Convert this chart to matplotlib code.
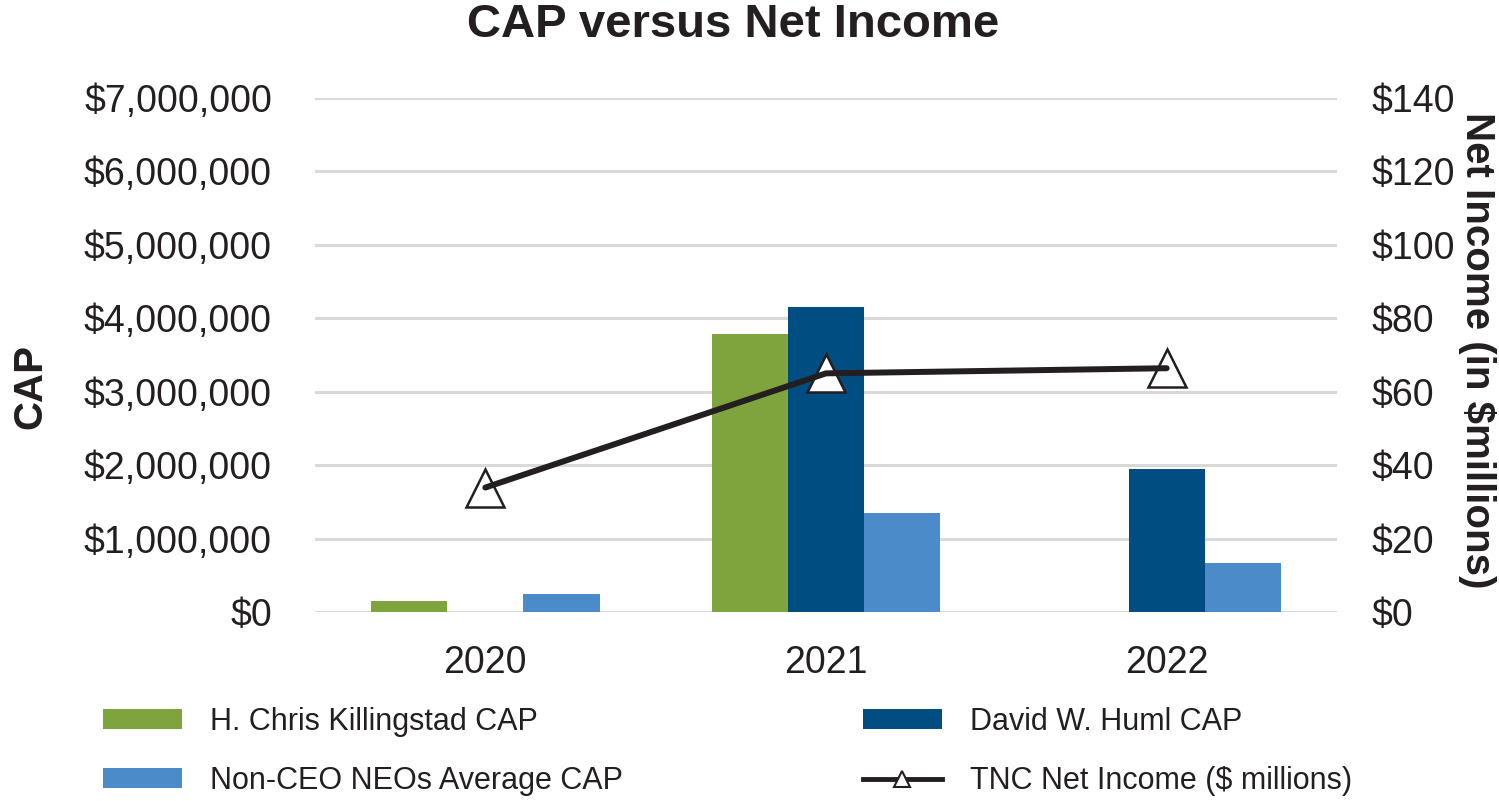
import numpy as np
import matplotlib.pyplot as plt
from matplotlib.ticker import FuncFormatter
from matplotlib.lines import Line2D

plt.rcParams['font.family'] = ['Liberation Sans', 'DejaVu Sans']

# chart data
years = ['2020', '2021', '2022']
killingstad_cap = [150000, 3790000, np.nan]
huml_cap = [np.nan, 4160000, 1950000]
non_ceo_cap = [245000, 1350000, 670000]
net_income = [33.9, 65.0, 66.4]   # $ millions

green = '#7FA33D'
dark_blue = '#004E81'
light_blue = '#4C8BC9'
grid_col = '#D9D9D9'
ink = '#231F20'

fig = plt.figure(figsize=(14.99, 8.01), dpi=100)
ax = fig.add_axes([315/1499, 1-612/801, (1337-315)/1499, (612-98)/801])
ax2 = ax.twinx()

x = np.arange(len(years))
w = 0.224
b1 = ax.bar(x - w, killingstad_cap, w, color=green, zorder=2)
b2 = ax.bar(x, huml_cap, w, color=dark_blue, zorder=2)
b3 = ax.bar(x + w, non_ceo_cap, w, color=light_blue, zorder=2)

ax.set_xlim(-0.5, 2.5)
ax.set_ylim(0, 7000000)
ax.set_yticks(np.arange(0, 7000001, 1000000))
ax.yaxis.set_major_formatter(FuncFormatter(lambda v, p: '${:,.0f}'.format(v)))
ax.set_xticks(x)
ax.set_xticklabels(years)
ax.grid(axis='y', color=grid_col, linewidth=2.2, zorder=0)
ax.set_axisbelow(True)
for s in ax.spines.values():
    s.set_visible(False)
ax.tick_params(axis='both', length=0, labelsize=27, colors=ink)
ax.tick_params(axis='y', pad=31)
ax.tick_params(axis='x', pad=24)

# net income on the right axis: markers under the line
ax2.plot(x, net_income, linestyle='none', marker='^', markersize=27,
         markerfacecolor='white', markeredgecolor=ink, markeredgewidth=1.8, zorder=3)
ax2.plot(x, net_income, color=ink, linewidth=4.3, solid_capstyle='round', zorder=4)
ax2.set_ylim(0, 140)
ax2.set_yticks(np.arange(0, 141, 20))
ax2.yaxis.set_major_formatter(FuncFormatter(lambda v, p: '${:.0f}'.format(v)))
for s in ax2.spines.values():
    s.set_visible(False)
ax2.tick_params(axis='y', length=0, labelsize=27, colors=ink, pad=25)

fig.text(733/1499, 1-25/801, 'CAP versus Net Income', ha='center', va='center',
         fontsize=34, fontweight='bold', color=ink)
fig.text(30/1499, 1-386/801, 'CAP', rotation=90, ha='center', va='center',
         fontsize=29, fontweight='bold', color=ink)
fig.text(1477/1499, 1-350/801, 'Net Income (in $millions)', rotation=-90,
         ha='center', va='center', fontsize=29, fontweight='bold', color=ink)

line_handle = Line2D([], [], color=ink, linewidth=3.5, marker='^', markersize=12,
                     markerfacecolor='white', markeredgecolor=ink, markeredgewidth=1.5)
handles = [b1, b3, b2, line_handle]
labels = ['H. Chris Killingstad CAP', 'Non-CEO NEOs Average CAP',
          'David W. Huml CAP', 'TNC Net Income ($ millions)']
leg = fig.legend(handles, labels, ncol=2, loc='upper left',
                 bbox_to_anchor=(103/1499, 1-707/801), frameon=False,
                 fontsize=22, handlelength=2.6, handleheight=0.65, handletextpad=0.9,
                 columnspacing=7.85, labelspacing=0.95, borderpad=0, borderaxespad=0)
for t in leg.get_texts():
    t.set_color(ink)

fig.savefig('out.png', dpi=100)
